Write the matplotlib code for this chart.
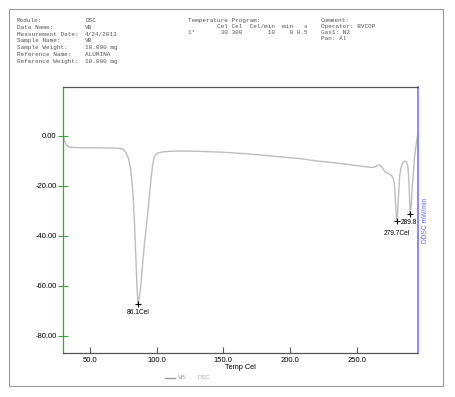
import matplotlib
matplotlib.use("Agg")
import matplotlib.pyplot as plt
from matplotlib.patches import Rectangle

# DSC curve (Temp Cel, DSC mW)
temp = [30, 31, 32, 33, 35, 38, 45, 55, 65, 72, 75, 77, 79, 80.5, 81.5, 82.5,
        83.5, 84.5, 85.3, 86.1, 87, 88, 89, 90, 91, 92, 93, 94, 95, 96, 97, 98,
        99, 101, 104, 108, 115, 130, 150, 170, 190, 210, 220, 230, 245, 255,
        262, 264, 266, 267.5, 269, 271, 274, 276, 277.5, 278.3, 279, 279.7,
        280.4, 281.2, 282, 283, 284.5, 286, 287.2, 288.2, 289, 289.8, 290.6,
        291.4, 292.2, 293, 294, 295.5]
dsc = [0.5, -1.5, -3.0, -4.0, -4.5, -4.6, -4.7, -4.7, -4.8, -4.9, -5.3, -6.5,
       -9.0, -13.0, -17.5, -24.0, -35.0, -48.0, -60.0, -67.0, -65.0, -61.0,
       -55.0, -48.5, -43.0, -38.0, -33.0, -28.0, -22.0, -16.5, -12.0, -9.0,
       -7.7, -6.8, -6.4, -6.2, -6.0, -6.1, -6.5, -7.2, -8.2, -9.2, -10.0,
       -10.5, -11.5, -12.2, -12.6, -12.2, -11.6, -11.8, -12.8, -14.3, -15.2,
       -15.8, -17.5, -21.0, -28.0, -34.0, -31.0, -23.0, -16.0, -12.5, -10.5,
       -10.0, -10.4, -12.5, -19.0, -31.0, -28.0, -20.0, -15.0, -9.0, -4.5, 0.5]

peak_t = [86.1, 279.7, 289.8]
peak_v = [-67.0, -34.0, -31.0]
peak_txt = ["86.1Cel", "279.7Cel", "289.8"]

xticks = [50, 100, 150, 200, 250]
yticks = [0, -20, -40, -60, -80]

left_col = ["Module:", "Data Name:", "Measurement Date:", "Sample Name:",
            "Sample Weight:", "Reference Name:", "Reference Weight:"]
left_val = ["DSC", "VB", "4/24/2013", "VB", "10.000 mg", "ALUMINA", "10.000 mg"]
prog = ["Temperature Program:",
        "        Cel Cel  Cel/min  min   s",
        "1*       30 300       10    0 0.5"]
comment = ["Comment:", "Operator: BVCOP", "Gas1: N2", "Pan: Al"]

W, H = 455, 397
fig = plt.figure(figsize=(W / 100, H / 100), dpi=100)

# outer gray frame
fig.patches.append(Rectangle((9 / W, 1 - 386 / H), 434 / W, 377 / H,
                             transform=fig.transFigure, fill=False,
                             edgecolor="#999999", linewidth=0.8))

mono = dict(family="Liberation Mono", fontsize=4.3, color="#555555", va="center")
for i, (a, b) in enumerate(zip(left_col, left_val)):
    y = 1 - (20.5 + 6.8 * i) / H
    fig.text(17 / W, y, a, **mono)
    fig.text(85 / W, y, b, **mono)
for i, s in enumerate(prog):
    fig.text(188 / W, 1 - (20.5 + 6.0 * i) / H, s, **mono)
for i, s in enumerate(comment):
    fig.text(321 / W, 1 - (20.5 + 6.0 * i) / H, s, **mono)

ax = fig.add_axes([63 / W, 1 - 353 / H, 355 / W, 266 / H])
ax.plot(temp, dsc, color="#bdbdbd", linewidth=1.0)
ax.plot(peak_t, peak_v, "+", color="black", markersize=4, markeredgewidth=0.8)

ax.text(peak_t[0], peak_v[0] - 2.2, peak_txt[0], fontsize=4.8,
        family="Liberation Sans", ha="center", va="top")
ax.text(peak_t[1], peak_v[1] - 3.5, peak_txt[1], fontsize=4.8,
        family="Liberation Sans", ha="center", va="top")
ax.text(peak_t[1] + 3.0, peak_v[1] - 0.4, peak_txt[2], fontsize=4.8,
        family="Liberation Sans", ha="left", va="center")

ax.set_xlim(30, 295.7)
ax.set_ylim(-86.8, 19.6)
ax.set_xticks(xticks)
ax.set_xticklabels(["%.1f" % v for v in xticks])
ax.set_yticks(yticks)
ax.set_yticklabels(["%.2f" % v for v in yticks])

for lab in ax.get_xticklabels() + ax.get_yticklabels():
    lab.set_family("Liberation Sans")
    lab.set_fontsize(5.5)
ax.tick_params(axis="y", direction="inout", length=7, width=0.8,
               color="#33a833", pad=1)
ax.tick_params(axis="x", direction="in", length=4, width=0.8,
               color="#555555", pad=3)
ax.tick_params(right=False, top=False)

ax.spines["left"].set_color("#33a833")
ax.spines["right"].set_color("#7f7fff")
ax.spines["top"].set_color("#555555")
ax.spines["bottom"].set_color("#555555")
for s in ax.spines.values():
    s.set_linewidth(0.9)
ax.spines["right"].set_linewidth(1.3)

ax.set_xlabel("Temp Cel", fontsize=5.3, family="Liberation Sans", labelpad=0)
ax.text(1.012, 0.5, "DDSC mW/min", transform=ax.transAxes, rotation=90,
        color="#6060ff", fontsize=4.8, family="Liberation Sans",
        ha="left", va="center")

# legend at the bottom
fig.add_artist(plt.Line2D([165 / W, 175 / W], [1 - 377.5 / H] * 2,
                          color="#999999", linewidth=1.0))
fig.text(178 / W, 1 - 377.5 / H, "VB", fontsize=4.3, color="#999999",
         family="Liberation Sans", va="center")
fig.text(197 / W, 1 - 377.5 / H, "DSC", fontsize=4.3, color="#aaaaaa",
         family="Liberation Sans", va="center")

fig.savefig("out.png", dpi=100)
